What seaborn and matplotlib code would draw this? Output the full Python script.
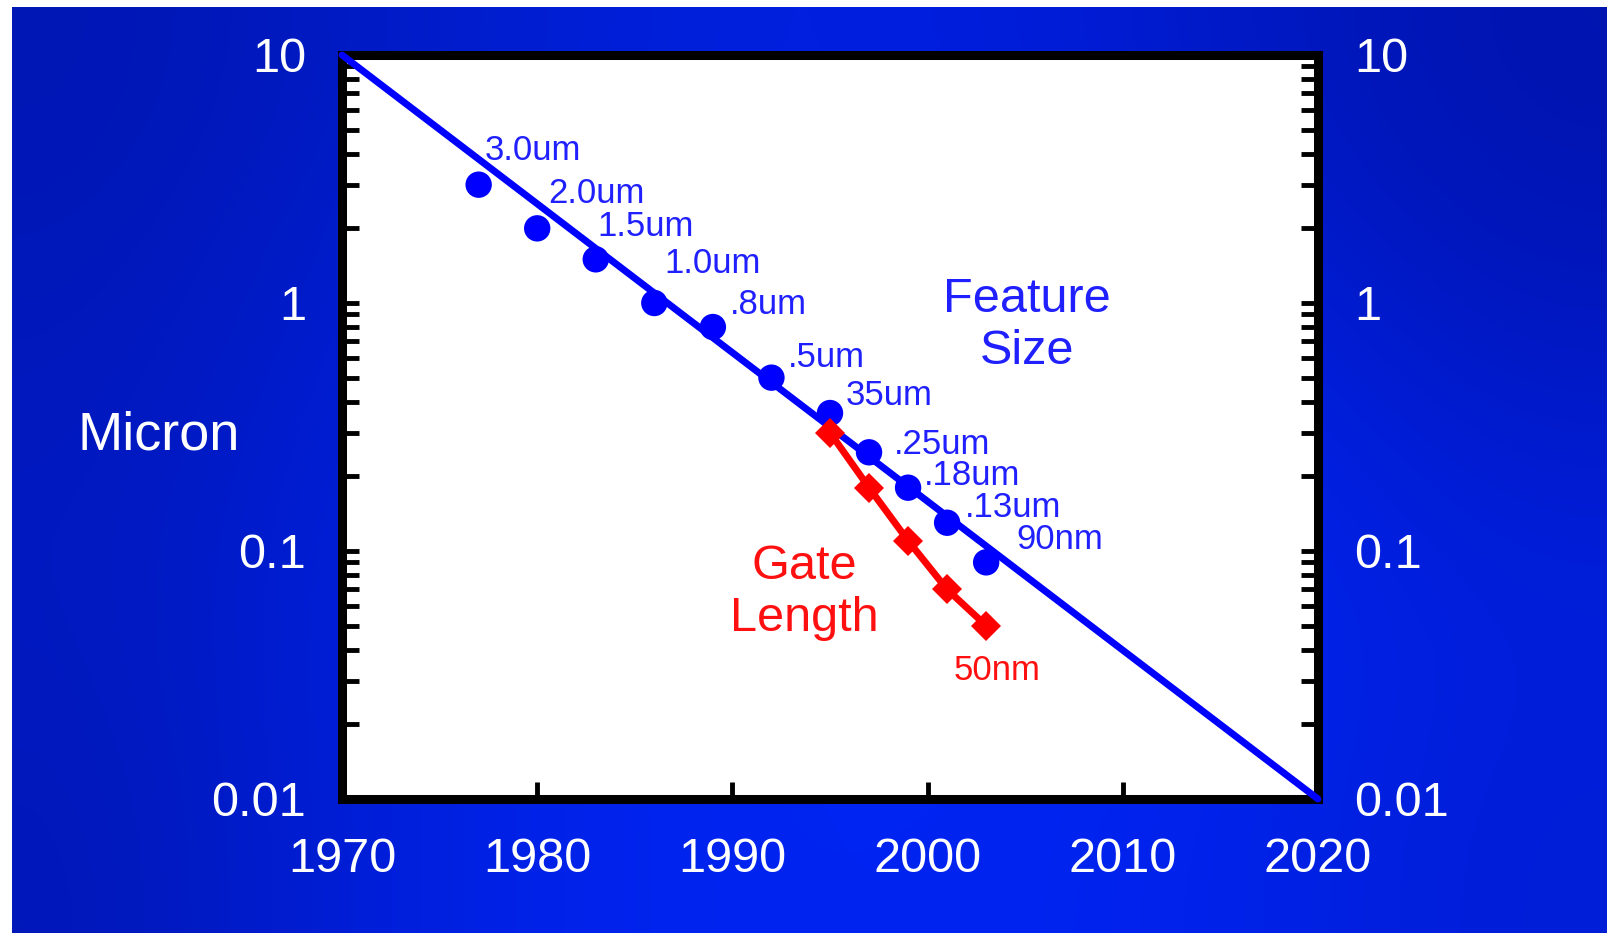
import numpy as np
import matplotlib.pyplot as plt
import seaborn as sns
from matplotlib.ticker import FixedLocator, LogLocator, NullFormatter

# Feature size (blue dots) and gate length (red), in micron
feat_year = [1977, 1980, 1983, 1986, 1989, 1992, 1995, 1997, 1999, 2001, 2003]
feat_size = [3.0, 2.0, 1.5, 1.0, 0.8, 0.5, 0.36, 0.25, 0.18, 0.13, 0.09]
feat_text = ["3.0um", "2.0um", "1.5um", "1.0um", ".8um", ".5um", "35um",
             ".25um", ".18um", ".13um", "90nm"]

gate_year = [1995, 1997, 1999, 2001, 2003]
gate_len = [0.3, 0.18, 0.11, 0.07, 0.05]

trend_year = [1970, 2020]
trend_size = [10, 0.01]

x_ticks = [1970, 1980, 1990, 2000, 2010, 2020]
y_ticks = [0.01, 0.1, 1, 10]
y_labels = ["0.01", "0.1", "1", "10"]

# label offsets in pixels (from each dot)
feat_off = [(6, 25), (11, 25), (2, 23), (10, 30), (17, 13), (16, 11), (16, 8),
            (25, -2), (16, 3), (18, 6), (30, 13)]

sns.set_style("ticks")
plt.rcParams['font.family'] = ['Liberation Sans', 'DejaVu Sans']

fig = plt.figure(figsize=(16.07, 9.35), dpi=100)
fig.patch.set_facecolor("white")

# blue slide background
bg = fig.add_axes([12 / 1607, 2 / 935, 1 - 12 / 1607, 1 - 9 / 935], zorder=-5)
grad = np.array([
    [[0, 22, 180], [0, 28, 200], [0, 32, 220], [0, 30, 225], [0, 26, 200], [0, 20, 175]],
    [[0, 24, 188], [0, 30, 215], [0, 34, 235], [0, 36, 240], [0, 32, 230], [0, 24, 195]],
    [[0, 25, 192], [0, 32, 225], [0, 36, 240], [0, 38, 245], [0, 36, 240], [0, 30, 220]],
    [[0, 24, 185], [0, 32, 225], [0, 36, 240], [0, 36, 242], [0, 34, 235], [0, 30, 215]],
]) / 255
bg.imshow(grad, aspect="auto", interpolation="bicubic")
bg.axis("off")

ax = fig.add_axes([342 / 1607, 1 - 799 / 935, 976 / 1607, 744 / 935])
ax.set_facecolor("white")

sns.lineplot(x=trend_year, y=trend_size, ax=ax, color="#0000ff", lw=5, zorder=3, clip_on=False)
sns.scatterplot(x=feat_year, y=feat_size, ax=ax, color="#0000ff", s=19 ** 2,
                marker="o", edgecolor="none", zorder=4)
sns.lineplot(x=gate_year, y=gate_len, ax=ax, color="#ff0000", lw=5, marker="D",
             markersize=15, markeredgewidth=0, zorder=5)

for x, y, t, off in zip(feat_year, feat_size, feat_text, feat_off):
    ax.annotate(t, (x, y), xytext=off, textcoords="offset pixels",
                color="#2020ff", fontsize=25, ha="left", va="baseline")
ax.annotate("50nm", (gate_year[-1], gate_len[-1]), xytext=(-33, -54),
            textcoords="offset pixels", color="#ff1010", fontsize=25,
            ha="left", va="baseline")

ax.text(0.702, 0.637, "Feature\nSize", transform=ax.transAxes, color="#2020ff",
        fontsize=35, ha="center", va="center", linespacing=1.2)
ax.text(0.474, 0.277, "Gate\nLength", transform=ax.transAxes, color="#ff1010",
        fontsize=35, ha="center", va="center", linespacing=1.2)
fig.text(78 / 1607, 1 - 435 / 935, "Micron", color="white", fontsize=39,
         ha="left", va="center")

ax.set_yscale("log")
ax.set_xlim(1970, 2020)
ax.set_ylim(0.01, 10)
ax.yaxis.set_major_locator(FixedLocator(y_ticks))
ax.set_yticklabels(y_labels)
ax.yaxis.set_minor_locator(LogLocator(base=10, subs=np.arange(2, 10)))
ax.yaxis.set_minor_formatter(NullFormatter())
ax.set_xticks(x_ticks)
ax.set_xticklabels([str(v) for v in x_ticks])
ax.set_xlabel("")
ax.set_ylabel("")

for s in ax.spines.values():
    s.set_visible(True)
    s.set_linewidth(6.5)
    s.set_color("black")

ax.tick_params(axis="y", which="both", direction="in", left=True, right=True,
               labelleft=True, labelright=True, length=12, width=3.5,
               color="black", labelcolor="white", labelsize=35, pad=26)
ax.tick_params(axis="x", which="both", direction="in", bottom=True, top=False,
               length=12, width=3.5, color="black", labelcolor="white",
               labelsize=35, pad=27)

fig.savefig("out.png", dpi=100)
